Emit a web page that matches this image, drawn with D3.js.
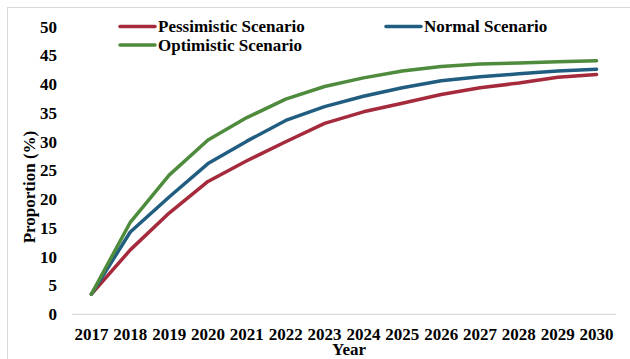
<!DOCTYPE html>
<html>
<head>
<meta charset="utf-8">
<script src="https://cdn.jsdelivr.net/npm/d3@7"></script>
<style>
  html, body { margin: 0; padding: 0; background: #fff; }
  svg { display: block; }
  text { font-family: "Liberation Serif", "Times New Roman", serif; font-weight: bold; fill: #000; }
</style>
</head>
<body>
<svg id="chart" width="630" height="359"></svg>
<script>
const years = ["2017","2018","2019","2020","2021","2022","2023","2024","2025","2026","2027","2028","2029","2030"];
const pessimistic = [3.5, 11.2, 17.6, 23.1, 26.7, 30.0, 33.2, 35.2, 36.7, 38.2, 39.4, 40.2, 41.2, 41.7];
const normal      = [3.5, 14.3, 20.4, 26.2, 30.1, 33.7, 36.1, 37.9, 39.4, 40.6, 41.3, 41.8, 42.3, 42.6];
const optimistic  = [3.5, 16.0, 24.2, 30.3, 34.2, 37.4, 39.6, 41.1, 42.3, 43.1, 43.5, 43.7, 43.9, 44.1];
const yTicks = [0, 5, 10, 15, 20, 25, 30, 35, 40, 45, 50];

const series = [
  { name: "Pessimistic Scenario", values: pessimistic, color: "#A52A3B" },
  { name: "Normal Scenario",      values: normal,      color: "#215D80" },
  { name: "Optimistic Scenario",  values: optimistic,  color: "#4E8B3C" }
];

const svg = d3.select("#chart");

// outer chart frame
svg.append("rect")
  .attr("x", 7.5).attr("y", 7.5)
  .attr("width", 640).attr("height", 370)
  .attr("fill", "none").attr("stroke", "#d9d9d9").attr("stroke-width", 1);

const plot = { left: 72, right: 616, top: 26.7, bottom: 314.3 };

const x = d3.scaleBand().domain(years).range([plot.left, plot.right]);
const y = d3.scaleLinear().domain([0, 50]).range([plot.bottom, plot.top]);

// x axis baseline
svg.append("line")
  .attr("x1", plot.left).attr("x2", plot.right)
  .attr("y1", y(0)).attr("y2", y(0))
  .attr("stroke", "#d9d9d9").attr("stroke-width", 1.2);

// y tick labels
svg.append("g").selectAll("text").data(yTicks).join("text")
  .attr("x", 57).attr("y", d => y(d))
  .attr("dy", "0.35em")
  .attr("text-anchor", "end")
  .attr("font-size", 17)
  .text(d => d);

// x tick labels
svg.append("g").selectAll("text").data(years).join("text")
  .attr("x", d => x(d) + x.bandwidth() / 2).attr("y", 340)
  .attr("text-anchor", "middle")
  .attr("font-size", 17)
  .text(d => d);

// axis titles
svg.append("text")
  .attr("x", 349).attr("y", 355)
  .attr("text-anchor", "middle").attr("font-size", 17)
  .text("Year");

svg.append("text")
  .attr("transform", "translate(35,187) rotate(-90)")
  .attr("text-anchor", "middle").attr("font-size", 17)
  .text("Proportion (%)");

// lines
const line = d3.line()
  .x((d, i) => x(years[i]) + x.bandwidth() / 2)
  .y(d => y(d));

svg.append("g").selectAll("path").data(series).join("path")
  .attr("d", d => line(d.values))
  .attr("fill", "none")
  .attr("stroke", d => d.color)
  .attr("stroke-width", 3.5)
  .attr("stroke-linejoin", "round")
  .attr("stroke-linecap", "round");

// legend
const legendPos = [
  { x: 120, y: 26.5 },
  { x: 386, y: 26.5 },
  { x: 120, y: 45 }
];
const lg = svg.append("g").selectAll("g").data(series).join("g")
  .attr("transform", (d, i) => `translate(${legendPos[i].x},${legendPos[i].y})`);
lg.append("line")
  .attr("x1", 0).attr("x2", 35).attr("y1", 0).attr("y2", 0)
  .attr("stroke", d => d.color).attr("stroke-width", 3.5)
  .attr("stroke-linecap", "round");
lg.append("text")
  .attr("x", 38).attr("y", 0).attr("dy", "0.35em")
  .attr("font-size", 17)
  .text(d => d.name);
</script>
</body>
</html>
